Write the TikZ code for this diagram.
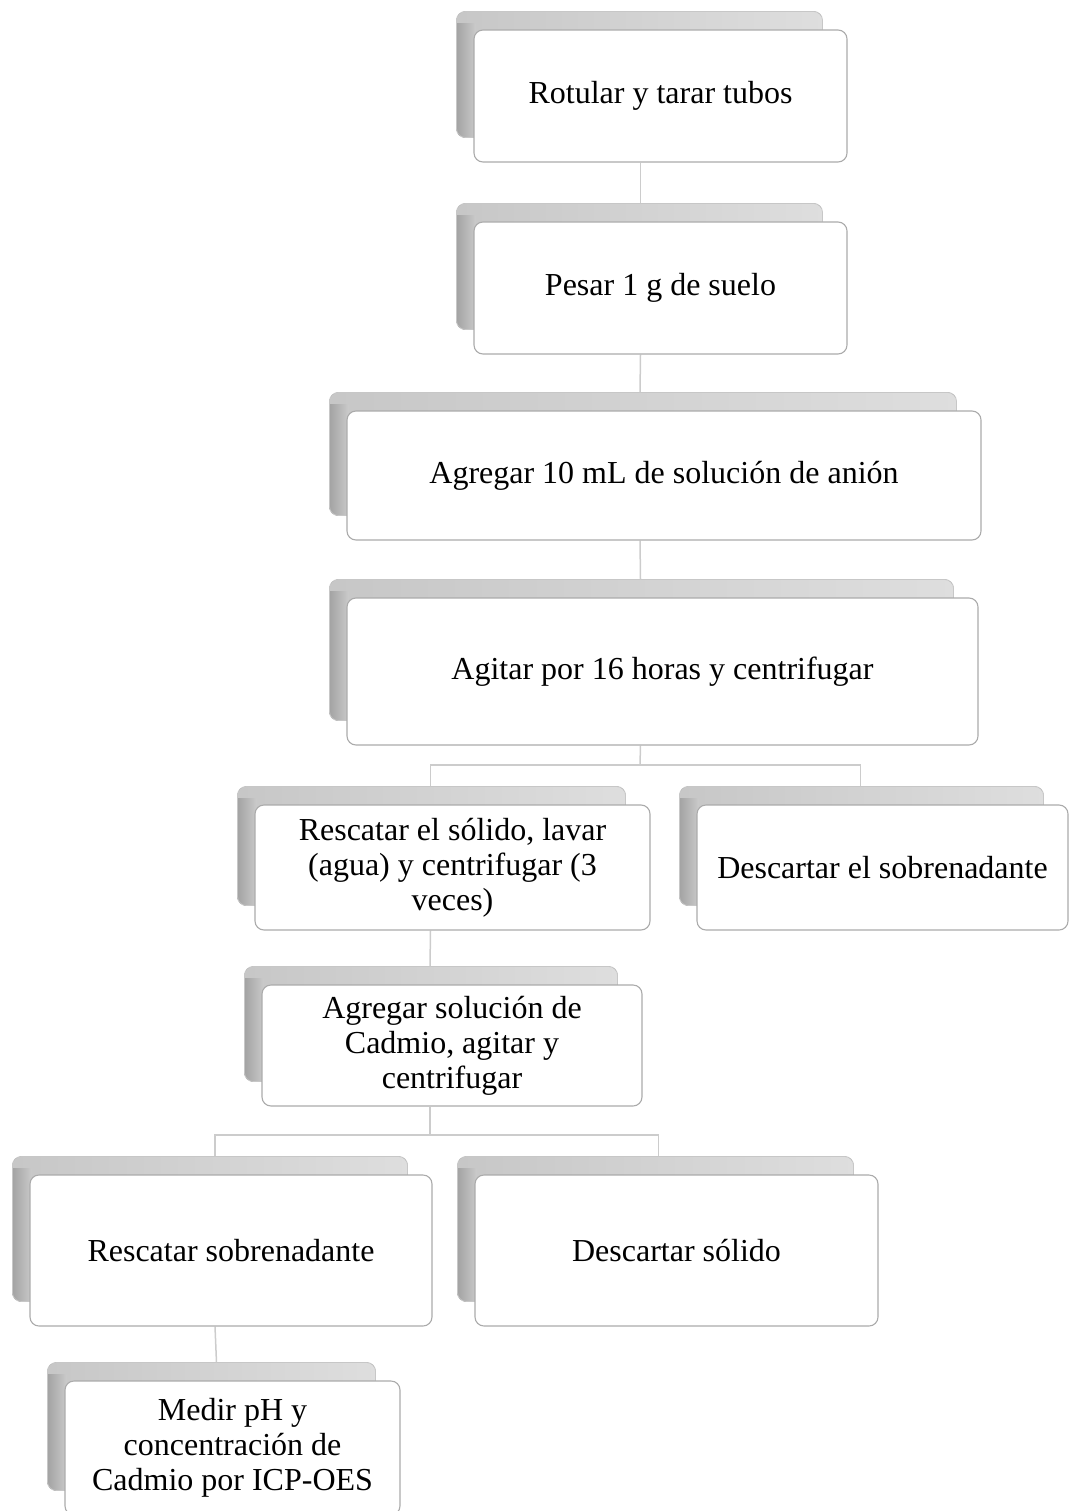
\documentclass[tikz,border=0pt]{standalone}
\usepackage{fontspec}
\setmainfont{Liberation Serif}
\usetikzlibrary{calc,backgrounds}
\tikzset{
  frontbox/.style={draw=black!33, line width=1.1pt, fill=white, rounded corners=9pt,
    align=center, inner sep=4pt, font=\fontsize{32}{35}\selectfont},
  backbox/.style={left color=black!22, right color=black!13},
  backline/.style={draw=black!22, line width=0.8pt, rounded corners=9pt},
  backstrip/.style={left color=black!36, right color=black!21},
  conn/.style={draw=black!20, line width=1.5pt}
}
\newcommand{\stepbox}[6]{%
  \node[frontbox, minimum width=#4, minimum height=#5] (#1) at (#2,#3) {#6};
  \begin{scope}[on background layer]
  \begin{scope}
  \clip[rounded corners=9pt] ($(#1.north west)+(-17,-18)$) rectangle ($(#1.south east)+(-25,-25)$);
  \fill[backbox] ($(#1.north west)+(-17,-18)$) rectangle ($(#1.south east)+(-25,-25)$);
  \fill[backstrip] ($(#1.north west)+(-17,-6)$) rectangle ($(#1.south west)+(2,-25)$);
  \end{scope}
  \draw[backline] ($(#1.north west)+(-17,-18)$) rectangle ($(#1.south east)+(-25,-25)$);
  \end{scope}
}
\begin{document}
\begin{tikzpicture}[x=1pt,y=-1pt]
\useasboundingbox (0,0) rectangle (1068,1511);
\stepbox{b1}{660.5}{96}{373pt}{132pt}{Rotular y tarar tubos}
\stepbox{b2}{660.5}{288}{373pt}{132pt}{Pesar 1 g de suelo}
\stepbox{b3}{664}{475.5}{634pt}{129pt}{Agregar 10 mL de solución de anión}
\stepbox{b4}{662.5}{671.5}{631pt}{147pt}{Agitar por 16 horas y centrifugar}
\stepbox{b5}{452.5}{867.5}{395pt}{125pt}{Rescatar el sólido, lavar\\(agua) y centrifugar (3\\veces)}
\stepbox{b6}{882.5}{867.5}{371pt}{125pt}{Descartar el sobrenadante}
\stepbox{b7}{452}{1045.5}{380pt}{121pt}{Agregar solución de\\Cadmio, agitar y\\centrifugar}
\stepbox{b8}{231}{1250.5}{402pt}{151pt}{Rescatar sobrenadante}
\stepbox{b9}{676.5}{1250.5}{403pt}{151pt}{Descartar sólido}
\stepbox{b10}{232.5}{1448}{335pt}{134pt}{Medir pH y\\concentración de\\Cadmio por ICP-OES}
\begin{scope}[on background layer]
\coordinate (s1) at (640,765);
\coordinate (s2) at (430,1135);
\draw[conn] ($(b1.south)+(-20,0)$) -- ($(b2.north)+(-20,-18)$);
\draw[conn] ($(b2.south)+(-20,0)$) -- ($(b3.north)+(-24,-18)$);
\draw[conn] ($(b3.south)+(-24,0)$) -- ($(b4.north)+(-22,-18)$);
\draw[conn] ($(b4.south)+(-22,0)$) -- (s1);
\draw[conn] (s1) -| ($(b5.north)+(-22,-18)$);
\draw[conn] (s1) -| ($(b6.north)+(-22,-18)$);
\draw[conn] ($(b5.south)+(-22,0)$) -- ($(b7.north)+(-22,-18)$);
\draw[conn] ($(b7.south)+(-22,0)$) -- (s2);
\draw[conn] (s2) -| ($(b8.north)+(-16,-18)$);
\draw[conn] (s2) -| ($(b9.north)+(-18,-18)$);
\draw[conn] ($(b8.south)+(-16,0)$) -- ($(b10.north)+(-16,-18)$);
\end{scope}
\end{tikzpicture}
\end{document}
